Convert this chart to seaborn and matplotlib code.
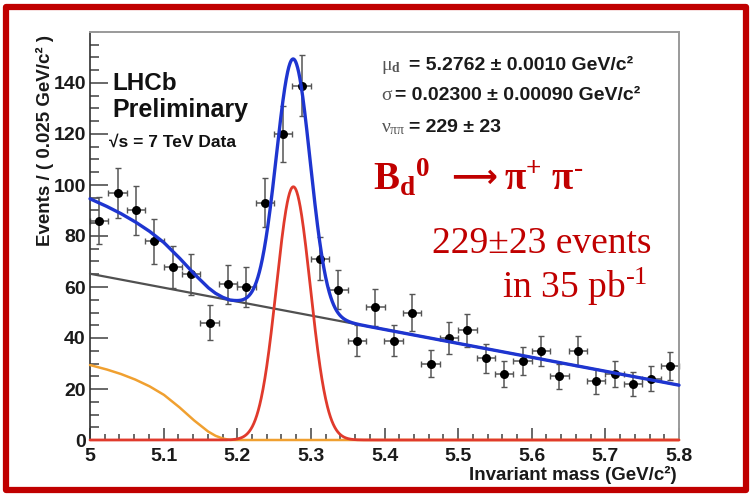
import numpy as np
import pandas as pd
import matplotlib
matplotlib.use("Agg")
import matplotlib.pyplot as plt
import seaborn as sns
from matplotlib.patches import Rectangle
from matplotlib.ticker import MultipleLocator, FixedLocator, FuncFormatter

# ---------------- data ----------------
mass = [5.0125, 5.0375, 5.0625, 5.0875, 5.1125, 5.1375, 5.1625, 5.1875,
        5.2125, 5.2375, 5.2625, 5.2875, 5.3125, 5.3375, 5.3625, 5.3875,
        5.4125, 5.4375, 5.4625, 5.4875, 5.5125, 5.5375, 5.5625, 5.5875,
        5.6125, 5.6375, 5.6625, 5.6875, 5.7125, 5.7375, 5.7625, 5.7875]
events = [86, 97, 90, 78, 68, 65, 46, 61, 60, 93, 120, 139, 71, 59, 39, 52,
          39, 50, 30, 40, 43, 32, 26, 31, 35, 25, 35, 23, 26, 22, 24, 29]
bin_width = 0.025

# fit results (from the legend)
sig_mu = 5.2762
sig_sigma = 0.023
sig_yield = 229

# combinatorial background (straight line) end points
bkg_mass = [5.0, 5.8]
bkg_val = [65.2, 21.5]

# partially reconstructed background (orange)
prb_mass = [5.00, 5.02, 5.04, 5.06, 5.08, 5.10, 5.12, 5.14, 5.16, 5.17,
            5.18, 5.19, 5.80]
prb_val = [29.4, 27.9, 26.1, 23.9, 21.2, 17.8, 13.2, 8.0, 3.4, 1.7,
           0.6, 0.0, 0.0]

xticks = [5.0, 5.1, 5.2, 5.3, 5.4, 5.5, 5.6, 5.7, 5.8]
yticks = [0, 20, 40, 60, 80, 100, 120, 140]

# ---------------- model curves ----------------
xg = np.linspace(5.0, 5.8, 1601)
bkg = np.interp(xg, bkg_mass, bkg_val)
prb = np.interp(xg, prb_mass, prb_val)
sig = sig_yield * bin_width / (np.sqrt(2 * np.pi) * sig_sigma) * \
    np.exp(-0.5 * ((xg - sig_mu) / sig_sigma) ** 2)
tot = bkg + prb + sig
curves = pd.DataFrame({"m": xg, "bkg": bkg, "prb": prb, "sig": sig, "tot": tot})
pts = pd.DataFrame({"m": mass, "n": events})

# ---------------- style ----------------
sns.set_style("ticks")
plt.rcParams["font.family"] = ["Liberation Sans", "DejaVu Sans"]
plt.rcParams["mathtext.fontset"] = "custom"
plt.rcParams["mathtext.rm"] = "Liberation Serif"
plt.rcParams["mathtext.bf"] = "Liberation Serif:bold"
plt.rcParams["mathtext.it"] = "Liberation Serif:italic"

W, H = 750, 498
fig = plt.figure(figsize=(W / 100, H / 100), dpi=100)
fig.patch.set_facecolor("white")

def fx(px):
    return px / W

def fy(py):
    return 1 - py / H

ax = fig.add_axes([fx(90), fy(440), fx(679) - fx(90), fy(32) - fy(440)])
ax.set_facecolor("white")

# error bars
ax.errorbar(mass, events, yerr=np.sqrt(events), xerr=bin_width / 2,
            fmt="none", ecolor="#555555", elinewidth=1.1, capsize=2,
            capthick=1.0, zorder=2)
sns.scatterplot(data=pts, x="m", y="n", ax=ax, color="black", s=42,
                edgecolor="black", linewidth=0, zorder=3)

sns.lineplot(data=curves, x="m", y="bkg", ax=ax, color="#505050", lw=1.6,
             zorder=4)
sns.lineplot(data=curves, x="m", y="prb", ax=ax, color="#f0a030", lw=1.8,
             zorder=4)
sns.lineplot(data=curves, x="m", y="sig", ax=ax, color="#e03a2c", lw=2.0,
             zorder=5)
sns.lineplot(data=curves, x="m", y="tot", ax=ax, color="#1e35d0", lw=2.4,
             zorder=6)
for line in ax.lines:
    line.set_clip_on(False)

ax.set_xlim(5.0, 5.8)
ax.set_ylim(0, 160)
ax.set_xlabel("")
ax.set_ylabel("")

ax.xaxis.set_major_locator(FixedLocator(xticks))
ax.xaxis.set_minor_locator(MultipleLocator(0.02))
ax.xaxis.set_major_formatter(FuncFormatter(lambda v, p: f"{v:g}"))
ax.yaxis.set_major_locator(FixedLocator(yticks))
ax.yaxis.set_minor_locator(MultipleLocator(5))

ax.tick_params(axis="both", which="both", direction="in", color="#404040",
               width=1.1, labelsize=14)
ax.tick_params(axis="y", which="major", length=13, pad=3)
ax.tick_params(axis="y", which="minor", length=6.5)
ax.tick_params(axis="x", which="major", length=8.5, pad=6)
ax.tick_params(axis="x", which="minor", length=4.3)
ax.tick_params(top=False, right=False)
for lab in ax.get_xticklabels() + ax.get_yticklabels():
    lab.set_fontweight("bold")
    lab.set_color("#1a1a1a")

for s in ["left", "bottom"]:
    ax.spines[s].set_color("#303030")
    ax.spines[s].set_linewidth(1.2)
for s in ["top", "right"]:
    ax.spines[s].set_visible(True)
    ax.spines[s].set_color("#9a9a9a")
    ax.spines[s].set_linewidth(1.4)

# axis titles
fig.text(fx(45), fy(141), "Events / ( 0.025 GeV/c² )", rotation=90,
         ha="center", va="center", fontsize=13.5, fontweight="bold",
         color="#1a1a1a")
fig.text(fx(677), fy(475), "Invariant mass (GeV/c²)", ha="right",
         va="center", fontsize=13.5, fontweight="bold", color="#1a1a1a")

# LHCb label
fig.text(fx(112), fy(90), "LHCb", fontsize=17.5, fontweight="bold",
         va="baseline", ha="left", color="#111111")
fig.text(fx(112), fy(117), "Preliminary", fontsize=18, fontweight="bold",
         va="baseline", ha="left", color="#111111")
fig.text(fx(109), fy(147), "√s = 7 TeV Data", fontsize=12.5,
         fontweight="bold", va="baseline", ha="left", color="#111111")

# fit parameter box
greek_kw = dict(fontsize=14, va="baseline", ha="left", color="#555555")
val_kw = dict(fontsize=14, fontweight="bold", va="baseline", ha="left",
              color="#1a1a1a")
fig.text(fx(381), fy(70), r"$\mathrm{\mu}_{\mathbf{d}}$", **greek_kw)
fig.text(fx(409), fy(70), "= 5.2762 ± 0.0010 GeV/c²", **val_kw)
fig.text(fx(381), fy(100), r"$\mathrm{\sigma}$", **greek_kw)
fig.text(fx(395), fy(100), "= 0.02300 ± 0.00090 GeV/c²", **val_kw)
fig.text(fx(381), fy(132), r"$\mathrm{\nu}_{\mathrm{\pi\pi}}$", **greek_kw)
fig.text(fx(409), fy(132), "= 229 ± 23", **val_kw)

# red annotation
red = "#c00000"
fig.text(fx(373), fy(190), r"$\mathbf{B_{d}{}^{0}}$",
         fontsize=28, color=red, va="baseline", ha="left")
fig.text(fx(451), fy(178), "⟶", family=["DejaVu Sans"], fontweight="bold",
         fontsize=23, color=red, va="center", ha="left")
fig.text(fx(504), fy(190), r"$\mathbf{π^{+}\ π^{\text{-}}}$",
         fontsize=28, color=red, va="baseline", ha="left")
fig.text(fx(651), fy(253), "229±23 events", fontsize=27, color=red,
         va="baseline", ha="right", family=["Liberation Serif", "DejaVu Serif"])
fig.text(fx(648), fy(298), r"in 35 pb$^{\text{-1}}$", fontsize=27,
         color=red, va="baseline", ha="right",
         family=["Liberation Serif", "DejaVu Serif"])

# red frame
fig.patches.append(Rectangle((fx(5.5), fy(490)), fx(745.5) - fx(5.5),
                             fy(7) - fy(490), transform=fig.transFigure,
                             fill=False, edgecolor=red, linewidth=4.5,
                             joinstyle="round", zorder=10))

fig.savefig("out.png", dpi=100, facecolor="white")
